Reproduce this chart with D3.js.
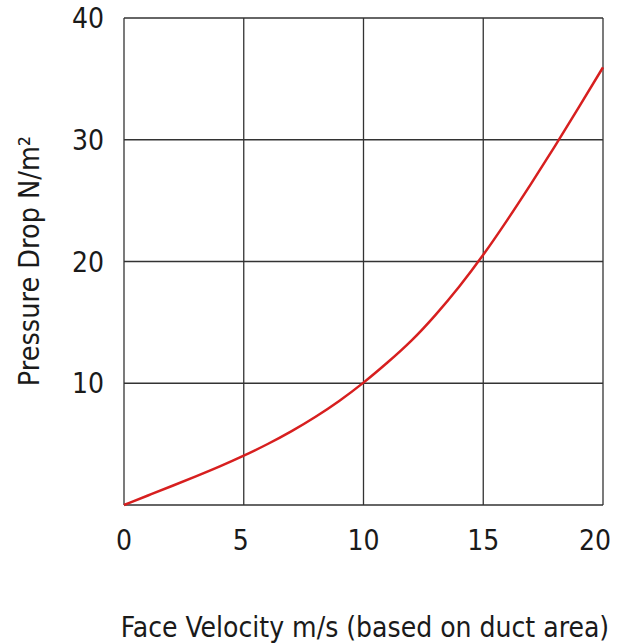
<!DOCTYPE html>
<html>
<head>
<meta charset="utf-8">
<script src="https://cdn.jsdelivr.net/npm/d3@7"></script>
<style>
  body { margin: 0; background: #fff; }
  text { font-family: "DejaVu Sans Condensed", "DejaVu Sans", sans-serif; fill: #1a1a1a; }
</style>
</head>
<body>
<div id="chart"></div>
<script>
/* CONSTANTS AND GLOBALS */
const width = 625,
  height = 644,
  margin = { top: 18, bottom: 139, left: 124, right: 22 };

// data
const velocity = [0, 1, 2, 3, 4, 5, 6, 7, 8, 9, 10, 11, 12, 13, 14, 15, 16, 17, 18, 19, 20];
const pressure = [0, 0.78, 1.56, 2.35, 3.17, 4.05, 5.01, 6.07, 7.25, 8.57, 10.05, 11.7, 13.5, 15.6, 17.95, 20.55, 23.4, 26.4, 29.5, 32.7, 35.95];
const xTicks = [0, 5, 10, 15, 20];
const yTicks = [10, 20, 30, 40];
const xTitle = "Face Velocity m/s (based on duct area)";
const yTitle = "Pressure Drop N/m²";

const data = velocity.map((v, i) => ({ v, p: pressure[i] }));

const svg = d3.select("#chart")
  .append("svg")
  .attr("width", width)
  .attr("height", height);

// + SCALES
const xScale = d3.scaleLinear()
  .domain([0, 20])
  .range([margin.left, width - margin.right]);

const yScale = d3.scaleLinear()
  .domain([0, 40])
  .range([height - margin.bottom, margin.top]);

// + GRID
svg.append("g")
  .attr("class", "grid")
  .selectAll("line")
  .data(xTicks)
  .join("line")
  .attr("x1", d => xScale(d))
  .attr("x2", d => xScale(d))
  .attr("y1", yScale(0))
  .attr("y2", yScale(40))
  .attr("stroke", "#333")
  .attr("stroke-width", 1.3);

svg.append("g")
  .attr("class", "grid")
  .selectAll("line")
  .data([0, ...yTicks])
  .join("line")
  .attr("x1", xScale(0))
  .attr("x2", xScale(20))
  .attr("y1", d => yScale(d))
  .attr("y2", d => yScale(d))
  .attr("stroke", "#333")
  .attr("stroke-width", 1.3);

// + TICK LABELS
svg.append("g")
  .selectAll("text")
  .data(xTicks)
  .join("text")
  .attr("x", d => xScale(d) - (d === 20 ? 8 : d === 5 ? 3 : 0))
  .attr("y", 550)
  .attr("text-anchor", "middle")
  .attr("font-size", 28)
  .text(d => d);

svg.append("g")
  .selectAll("text")
  .data(yTicks)
  .join("text")
  .attr("x", xScale(0) - 20)
  .attr("y", d => yScale(d) + 10)
  .attr("text-anchor", "end")
  .attr("font-size", 28)
  .text(d => d);

// + AXIS TITLES
svg.append("text")
  .attr("x", 365)
  .attr("y", 637)
  .attr("text-anchor", "middle")
  .attr("font-size", 28)
  .text(xTitle);

svg.append("text")
  .attr("transform", `translate(39,261) rotate(-90)`)
  .attr("text-anchor", "middle")
  .attr("font-size", 28.5)
  .text(yTitle);

// + LINE
const lineFunc = d3.line()
  .x(d => xScale(d.v))
  .y(d => yScale(d.p))
  .curve(d3.curveNatural);

svg.append("path")
  .datum(data)
  .attr("fill", "none")
  .attr("stroke", "#d71f1f")
  .attr("stroke-width", 2.5)
  .attr("d", lineFunc);
</script>
</body>
</html>
